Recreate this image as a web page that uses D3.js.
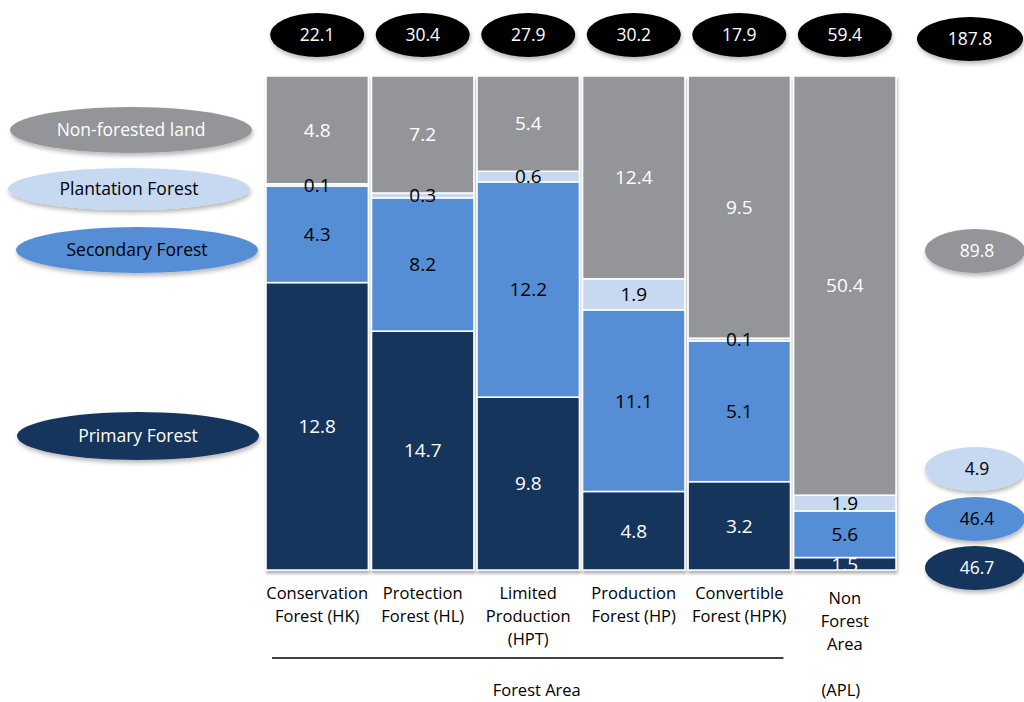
<!DOCTYPE html>
<html>
<head>
<meta charset="utf-8">
<script src="https://cdn.jsdelivr.net/npm/d3@7"></script>
<style>
  html, body { margin: 0; padding: 0; background: #fff; }
  svg { display: block; font-family: "Open Sans", "Noto Sans", sans-serif; }
</style>
</head>
<body>
<svg id="chart" width="1024" height="702"></svg>
<script>
// Land cover by forest function class (million ha)
const categories = ["HK", "HL", "HPT", "HP", "HPK", "APL"];
const categoryLabels = [
  ["Conservation", "Forest (HK)"],
  ["Protection", "Forest (HL)"],
  ["Limited", "Production", "(HPT)"],
  ["Production", "Forest (HP)"],
  ["Convertible", "Forest (HPK)"],
  ["Non", "Forest", "Area"]
];
const primaryForest   = [12.8, 14.7, 9.8, 4.8, 3.2, 1.5];
const secondaryForest = [4.3, 8.2, 12.2, 11.1, 5.1, 5.6];
const plantationForest = [0.1, 0.3, 0.6, 1.9, 0.1, 1.9];
const nonForestedLand = [4.8, 7.2, 5.4, 12.4, 9.5, 50.4];
const columnTotals = [22.1, 30.4, 27.9, 30.2, 17.9, 59.4];
const grandTotal = 187.8;
const seriesTotals = { nonForested: 89.8, plantation: 4.9, secondary: 46.4, primary: 46.7 };
const seriesNames = ["Primary Forest", "Secondary Forest", "Plantation Forest", "Non-forested land"];

const keys = ["primary", "secondary", "plantation", "nonForested"];
const colors = { primary: "#17365d", secondary: "#558ed5", plantation: "#c6d9f1", nonForested: "#939598" };
const textColors = { primary: "#fff", secondary: "#000", plantation: "#000", nonForested: "#fff" };

const rows = categories.map((c, i) => ({
  cat: c,
  primary: primaryForest[i],
  secondary: secondaryForest[i],
  plantation: plantationForest[i],
  nonForested: nonForestedLand[i]
}));

const svg = d3.select("#chart");
const defs = svg.append("defs");
const shadow = defs.append("filter").attr("id", "shadow")
  .attr("x", "-20%").attr("y", "-30%").attr("width", "140%").attr("height", "170%");
shadow.append("feDropShadow").attr("dx", 1).attr("dy", 3).attr("stdDeviation", 2)
  .attr("flood-color", "#000").attr("flood-opacity", 0.28);
const barShadow = defs.append("filter").attr("id", "barShadow")
  .attr("x", "-5%").attr("y", "-5%").attr("width", "110%").attr("height", "110%");
barShadow.append("feDropShadow").attr("dx", 1).attr("dy", 3).attr("stdDeviation", 1.5)
  .attr("flood-color", "#000").attr("flood-opacity", 0.3);

const x = d3.scaleBand().domain(categories).range([266, 896]).paddingInner(0.03);
const y = d3.scaleLinear().domain([0, 1]).range([570, 76]);

const stack = d3.stack().keys(keys).offset(d3.stackOffsetExpand);
const layers = stack(rows);

// Stacked 100% columns
const bars = svg.append("g").attr("filter", "url(#barShadow)");
layers.forEach(layer => {
  bars.append("g").selectAll("rect")
    .data(layer)
    .join("rect")
    .attr("x", d => x(d.data.cat))
    .attr("width", x.bandwidth())
    .attr("y", d => y(d[1]))
    .attr("height", d => y(d[0]) - y(d[1]))
    .attr("fill", colors[layer.key])
    .attr("stroke", "#fff")
    .attr("stroke-width", 1.5);
});

// Segment value labels, clipped to the column area
defs.append("clipPath").attr("id", "barClip")
  .append("rect").attr("x", 0).attr("y", 0).attr("width", 1024).attr("height", y(0) + 1);
const labels = svg.append("g").attr("clip-path", "url(#barClip)")
  .attr("font-size", 19).attr("text-anchor", "middle");
layers.forEach(layer => {
  labels.append("g").selectAll("text")
    .data(layer)
    .join("text")
    .attr("x", d => x(d.data.cat) + x.bandwidth() / 2)
    .attr("y", d => (y(d[0]) + y(d[1])) / 2)
    .attr("dy", "0.36em")
    .attr("fill", textColors[layer.key])
    .text(d => d3.format(".1f")(d.data[layer.key]));
});

// Column totals in black ovals
const totalsG = svg.append("g").attr("font-size", 17.5).attr("text-anchor", "middle");
const totalData = categories.map((c, i) => ({ cx: x(c) + x.bandwidth() / 2, cy: 35, v: columnTotals[i], rx: 47 }))
  .concat([{ cx: 970, cy: 39, v: grandTotal, rx: 53 }]);
totalsG.selectAll("ellipse").data(totalData).join("ellipse")
  .attr("cx", d => d.cx).attr("cy", d => d.cy).attr("rx", d => d.rx).attr("ry", 22)
  .attr("fill", "#000").attr("filter", "url(#shadow)");
totalsG.selectAll("text").data(totalData).join("text")
  .attr("x", d => d.cx).attr("y", d => d.cy).attr("dy", "0.36em")
  .attr("fill", "#fff").text(d => d3.format(".1f")(d.v));

// Series legend ovals (left)
const legendData = [
  { key: "nonForested", cx: 131, cy: 130, ry: 23, name: seriesNames[3] },
  { key: "plantation", cx: 129, cy: 189, ry: 21, name: seriesNames[2] },
  { key: "secondary", cx: 137, cy: 250, ry: 23, name: seriesNames[1] },
  { key: "primary", cx: 138, cy: 436, ry: 24, name: seriesNames[0] }
];
const legendG = svg.append("g").attr("font-size", 17.5).attr("text-anchor", "middle");
legendG.selectAll("ellipse").data(legendData).join("ellipse")
  .attr("cx", d => d.cx).attr("cy", d => d.cy).attr("rx", 121).attr("ry", d => d.ry)
  .attr("fill", d => colors[d.key]).attr("filter", "url(#shadow)");
legendG.selectAll("text").data(legendData).join("text")
  .attr("x", d => d.cx).attr("y", d => d.cy).attr("dy", "0.36em")
  .attr("fill", d => textColors[d.key]).text(d => d.name);

// Series totals (right)
const rightData = [
  { key: "nonForested", cy: 251 },
  { key: "plantation", cy: 469 },
  { key: "secondary", cy: 519 },
  { key: "primary", cy: 568 }
];
const rightG = svg.append("g").attr("font-size", 17.5).attr("text-anchor", "middle");
rightG.selectAll("ellipse").data(rightData).join("ellipse")
  .attr("cx", 975).attr("cy", d => d.cy).attr("rx", 50).attr("ry", 22)
  .attr("fill", d => colors[d.key]).attr("filter", "url(#shadow)");
rightG.selectAll("text").data(rightData).join("text")
  .attr("x", 977).attr("y", d => d.cy).attr("dy", "0.36em")
  .attr("fill", d => textColors[d.key]).text(d => d3.format(".1f")(seriesTotals[d.key]));

// Category labels
const catG = svg.append("g").attr("font-size", 16.5).attr("text-anchor", "middle").attr("fill", "#000");
categories.forEach((c, i) => {
  const cx = x(c) + x.bandwidth() / 2;
  const y0 = c === "APL" ? 598 : 593;
  const t = catG.append("text").attr("x", cx).attr("y", y0).attr("dy", "0.36em");
  categoryLabels[i].forEach((line, j) => {
    t.append("tspan").attr("x", cx).attr("y", y0 + j * 23).attr("dy", "0.36em").text(line);
  });
});

// Group bracket for forest area
const forestEnd = x("HPK") + x.bandwidth() - 7;
svg.append("line")
  .attr("x1", x("HK") + 6).attr("x2", forestEnd)
  .attr("y1", 658).attr("y2", 658)
  .attr("stroke", "#000").attr("stroke-width", 1.5);
svg.append("text").attr("x", (x("HK") + forestEnd) / 2 + 12).attr("y", 690).attr("dy", "0.36em")
  .attr("text-anchor", "middle").attr("font-size", 16.5).text("Forest Area");
svg.append("text").attr("x", x("APL") + x.bandwidth() / 2 - 4).attr("y", 690).attr("dy", "0.36em")
  .attr("text-anchor", "middle").attr("font-size", 16.5).text("(APL)");
</script>
</body>
</html>
